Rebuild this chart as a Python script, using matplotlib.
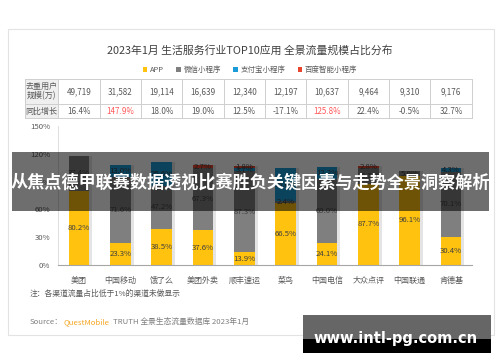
import matplotlib
matplotlib.use("Agg")
import matplotlib.pyplot as plt
import matplotlib.transforms as mtrans
from matplotlib.patches import Rectangle
import numpy as np

plt.rcParams['font.family'] = ['Noto Sans CJK SC', 'DejaVu Sans']

# data
apps = ["美团", "中国移动", "饿了么", "美团外卖", "顺丰速运", "菜鸟", "中国电信", "大众点评", "中国联通", "肯德基"]
users = ["49,719", "31,582", "19,114", "16,639", "12,340", "12,197", "10,637", "9,464", "9,310", "9,176"]
growth = ["16.4%", "147.9%", "18.0%", "19.0%", "12.5%", "-17.1%", "125.8%", "22.4%", "-0.5%", "32.7%"]
app_share = [80.2, 23.3, 38.5, 37.6, 13.9, 66.5, 24.1, 87.7, 96.1, 30.4]
wechat_share = [37.4, 71.6, 47.2, 67.3, 87.3, 2.4, 69.0, 16.5, 5.0, 70.1]
alipay_share = [0, 13.0, 25.6, 0, 3.7, 35.6, 12.2, 0, 0, 4.3]
baidu_share = [0, 0, 0, 2.7, 1.8, 0, 0, 2.8, 0, 0]
series_names = ["APP", "微信小程序", "支付宝小程序", "百度智能小程序"]
yticks = [0, 30, 60, 90, 120, 150]

colors = ["#FFC20E", "#7F7F7F", "#1B9CD8", "#E8452C"]
W, H = 500, 362
txt = "#595959"


def fx(px):
    return px / W


def fy(py):
    return 1 - py / H


fig = plt.figure(figsize=(5, 3.62), dpi=100)
fig.patch.set_facecolor("white")

# card border
fig.add_artist(Rectangle((fx(8), fy(335)), fx(494) - fx(8), fy(29) - fy(335),
                         transform=fig.transFigure, facecolor="white",
                         edgecolor="#e3e3e3", lw=0.8, zorder=-1))

ax = fig.add_axes([fx(58.3), fy(265), fx(471.7) - fx(58.3), fy(126) - fy(265)])
ax.set_facecolor("none")
n = len(apps)
x = np.arange(n) + 0.5
all_series = [np.array(app_share), np.array(wechat_share), np.array(alipay_share), np.array(baidu_share)]
total = sum(all_series)

# soft shadow to the right of each bar
ax.bar(x + 0.07, total, 0.5, color="#e4e4e4", zorder=1)

bottom = np.zeros(n)
handles = []
for vals, c, name in zip(all_series, colors, series_names):
    h = ax.bar(x, vals, 0.5, bottom=bottom, color=c, zorder=2, label=name)
    handles.append(h)
    for xi, v, b in zip(x, vals, bottom):
        if v > 0:
            ax.text(xi, b + v / 2, f"{v:.1f}%", ha="center", va="center",
                    fontsize=5.6, color="#404040", zorder=3)
    bottom = bottom + vals

ax.set_xlim(0, n)
ax.set_ylim(0, 150)
ax.set_yticks(yticks)
ax.set_yticklabels([f"{t}%" for t in yticks], fontsize=5.6, color=txt)
ax.set_xticks(x)
ax.set_xticklabels(apps, fontsize=5.8, color=txt)
ax.tick_params(length=0, pad=8)
ax.tick_params(axis="y", pad=6)
for s in ["top", "right"]:
    ax.spines[s].set_visible(False)
ax.spines["left"].set_color("#d9d9d9")
ax.spines["left"].set_linewidth(0.6)
ax.spines["bottom"].set_color("#a6a6a6")
ax.spines["bottom"].set_linewidth(0.8)

# table above the bars: x in data coords, y in axes coords
tr = mtrans.blended_transform_factory(ax.transData, ax.transAxes)


def ay(py):
    return (265 - py) / 139


t_left = (25 - 58.3) / 41.34
lc = "#cfcfcf"
ax.add_patch(Rectangle((t_left, ay(118)), -t_left, ay(79) - ay(118), transform=tr,
                       facecolor="#efefef", edgecolor="none", clip_on=False))
for py in [79, 104, 118]:
    ax.plot([t_left, n], [ay(py), ay(py)], transform=tr, color=lc, lw=0.7, clip_on=False)
for xv in [t_left] + list(range(n + 1)):
    ax.plot([xv, xv], [ay(79), ay(118)], transform=tr, color=lc, lw=0.7, clip_on=False)
ax.text(t_left / 2, (ay(79) + ay(104)) / 2, "去重用户\n规模(万)", transform=tr, ha="center",
        va="center", fontsize=5.8, color=txt, linespacing=1.05)
ax.text(t_left / 2, (ay(104) + ay(118)) / 2, "同比增长", transform=tr, ha="center",
        va="center", fontsize=5.8, color=txt)
for xi, u, g in zip(x, users, growth):
    ax.text(xi, (ay(79) + ay(104)) / 2, u, transform=tr, ha="center", va="center",
            fontsize=5.8, color=txt)
    gc = "#FF5A5A" if float(g.strip("%")) > 100 else txt
    ax.text(xi, (ay(104) + ay(118)) / 2, g, transform=tr, ha="center", va="center",
            fontsize=5.8, color=gc)

# title and legend
fig.text(0.5, fy(50), "2023年1月 生活服务行业TOP10应用 全景流量规模占比分布",
         ha="center", va="center", fontsize=7.8, color="#404040")
leg = fig.legend(handles=handles, loc="center", bbox_to_anchor=(0.5, fy(70)), ncol=4,
                 frameon=False, fontsize=5.4, handlelength=0.6, handleheight=0.6,
                 handletextpad=0.4, columnspacing=1.6)
for t in leg.get_texts():
    t.set_color(txt)

# notes
fig.text(fx(30), fy(294), "注：各渠道流量占比低于1%的渠道未做显示", ha="left", va="center",
         fontsize=5.6, color=txt)
fig.text(fx(30), fy(322), "Source：", ha="left", va="center", fontsize=5.6, color="#7f7f7f")
fig.text(fx(64), fy(322), "QuestMobile", ha="left", va="center", fontsize=5.6, color="#F5A623")
fig.text(fx(113), fy(322), "TRUTH 全景生态流量数据库 2023年1月", ha="left", va="center",
         fontsize=5.6, color="#7f7f7f")

# dark banner across the chart
fig.add_artist(Rectangle((fx(12), fy(211)), fx(489) - fx(12), fy(152) - fy(211),
                         transform=fig.transFigure, facecolor="black", alpha=0.57,
                         edgecolor="none", zorder=10))
fig.text(fx(250), fy(183), "从焦点德甲联赛数据透视比赛胜负关键因素与走势全景洞察解析",
         ha="center", va="center", fontsize=12.3, color="white", fontweight="bold", zorder=11)

# watermark box
fig.add_artist(Rectangle((fx(303), fy(339)), fx(491) - fx(303), fy(315) - fy(339),
                         transform=fig.transFigure, facecolor="#666666", edgecolor="none", zorder=10))
fig.add_artist(Rectangle((fx(303), fy(353)), fx(491) - fx(303), fy(339) - fy(353),
                         transform=fig.transFigure, facecolor="black", edgecolor="none", zorder=10))
fig.text(fx(396), fy(339), "www.intl-pg.com.cn", ha="center", va="center", fontsize=10.5,
         color="white", fontweight="bold", family="DejaVu Sans", zorder=11)

fig.savefig("out.png", dpi=100)
